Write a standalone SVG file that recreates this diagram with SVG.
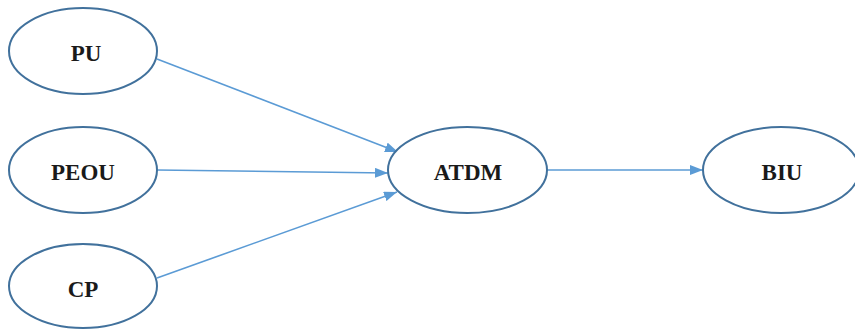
<svg xmlns="http://www.w3.org/2000/svg" width="855" height="329" viewBox="0 0 855 329">
<style>
.node ellipse{fill:#fff;stroke:#41719c;stroke-width:2}
.node text{font-family:"Liberation Serif","Times New Roman",serif;font-weight:bold;font-size:23px;fill:#1a1a1a;text-anchor:middle}
.edge{stroke:#5b9bd5;stroke-width:1.6;fill:none;marker-end:url(#ah)}
</style>
<defs>
<marker id="ah" markerUnits="userSpaceOnUse" markerWidth="14" markerHeight="10" refX="13" refY="5" orient="auto">
<path d="M0,0 L13,5 L0,10 Z" fill="#5b9bd5"/>
</marker>
</defs>
<rect width="855" height="329" fill="#fff"/>
<g id="connectors">
<line class="edge" x1="157" y1="59" x2="398" y2="152"/>
<line class="edge" x1="157" y1="170" x2="388" y2="173"/>
<line class="edge" x1="157" y1="278" x2="397" y2="192"/>
<line class="edge" x1="547" y1="170" x2="703" y2="170"/>
</g>
<g id="PU" class="node"><ellipse cx="83" cy="51" rx="74" ry="43"/><text x="86" y="61">PU</text></g>
<g id="PEOU" class="node"><ellipse cx="83" cy="170" rx="74" ry="43"/><text x="83" y="180">PEOU</text></g>
<g id="CP" class="node"><ellipse cx="83" cy="286" rx="74" ry="42"/><text x="83" y="297">CP</text></g>
<g id="ATDM" class="node"><ellipse cx="467.5" cy="170" rx="79.5" ry="43"/><text x="468" y="180">ATDM</text></g>
<g id="BIU" class="node"><ellipse cx="781" cy="170" rx="78" ry="43"/><text x="782" y="180">BIU</text></g>
</svg>
